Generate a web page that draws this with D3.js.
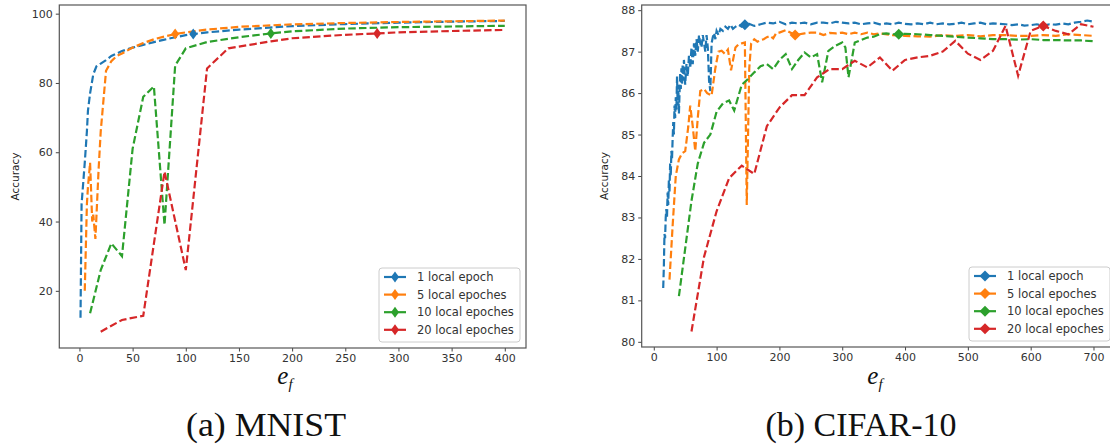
<!DOCTYPE html>
<meta charset="utf-8">
<style>
body {margin: 0; background: #fff;}
.tick text {font: 11px "DejaVu Sans", sans-serif; fill: #333;}
.tick line {stroke: #444;}
.domain {display: none;}
.legend text {font: 11.5px "DejaVu Sans", sans-serif; fill: #333;}
</style>
<html>
<body>
<script src="https://d3js.org/d3.v7.min.js"></script>
<script>
var width = 1110,
    height = 446;

var seriesNames = ["1 local epoch", "5 local epoches", "10 local epoches", "20 local epoches"];
var colors = ["#1f77b4", "#ff7f0e", "#2ca02c", "#d62728"];

// MNIST (a)
var mnistTicksX = [0, 50, 100, 150, 200, 250, 300, 350, 400];
var mnistTicksY = [20, 40, 60, 80, 100];
var mnist1 = [[1,12.2],[2,45],[4,53],[5,57],[7,66],[8,72],[10,77],[13,82.5],[16,84.8],[20,85.6],[25,86.6],[30,87.8],[40,89.2],[50,90.2],[60,91],[70,91.8],[80,92.5],[90,93.2],[100,93.8],[107,94.1],[120,94.6],[150,95.4],[200,96.4],[250,97],[300,97.4],[350,97.7],[400,97.9]];
var mnist5 = [[5,20],[7,45],[8,50],[10,57],[12,40],[13,42],[15,35],[18,55],[20,66],[25,83.5],[30,86.3],[35,87.8],[40,88.5],[50,90.2],[60,91.5],[70,92.6],[80,93.4],[90,94.1],[100,94.6],[120,95.4],[150,96.2],[200,96.9],[250,97.3],[300,97.6],[350,97.8],[400,98]];
var mnist10 = [[10,13.5],[20,26],[30,33.7],[40,30],[50,61],[60,76],[70,79],[80,39],[90,85],[100,90],[120,91.8],[150,93.2],[180,94.3],[200,94.9],[250,95.7],[300,96.1],[350,96.3],[400,96.5]];
var mnist20 = [[20,8.2],[40,11.6],[60,12.8],[80,54.4],[100,26],[120,84.2],[140,90],[160,91],[180,92],[200,92.9],[250,93.9],[280,94.3],[300,94.6],[350,95],[400,95.3]];
var mnistMarks = [107, 90, 180, 280];

// CIFAR-10 (b)
var cifarTicksX = [0, 100, 200, 300, 400, 500, 600, 700];
var cifarTicksY = [80, 81, 82, 83, 84, 85, 86, 87, 88];
var cifar1 = [[15,81.3],[16,81.8],[17,82.6],[18,82.5],[19,83],[20,83.2],[21,83],[22,83.6],[23,83.3],[24,83.9],[25,83.6],[26,84.3],[27,84],[28,84.6],[29,84.4],[30,84.9],[31,85.3],[32,85],[33,85.7],[34,85.4],[35,85.9],[36,85.6],[37,86.4],[38,85.7],[39,86.2],[40,85.5],[41,86],[42,86.5],[43,86.1],[44,86.6],[45,86.2],[46,86.7],[47,86.3],[48,86.8],[49,86.5],[50,86.2],[52,86.7],[54,86.4],[56,86.9],[58,86.6],[60,87.1],[62,86.7],[64,87.2],[66,86.9],[68,87.3],[70,87],[72,87.4],[74,87.2],[76,87.1],[78,87.4],[80,87.2],[82,87],[84,87.4],[86,87.1],[88,86.3],[90,86.05],[92,87.2],[94,87.35],[96,87.45],[98,87.3],[100,87.5],[103,87.4],[106,87.55],[110,87.5],[114,87.6],[118,87.55],[122,87.65],[126,87.55],[130,87.6],[135,87.65],[140,87.6],[145,87.65],[150,87.68],[160,87.62],[170,87.66],[180,87.7],[190,87.68],[200,87.72],[210,87.66],[220,87.7],[230,87.68],[240,87.7],[250,87.66],[260,87.7],[270,87.7],[280,87.68],[290,87.72],[300,87.7],[310,87.68],[320,87.7],[330,87.66],[340,87.68],[350,87.7],[360,87.66],[370,87.68],[380,87.66],[390,87.7],[400,87.67],[410,87.66],[420,87.68],[430,87.66],[440,87.7],[450,87.66],[460,87.68],[470,87.66],[480,87.67],[490,87.7],[500,87.66],[510,87.68],[520,87.7],[530,87.66],[540,87.68],[550,87.67],[560,87.66],[570,87.64],[580,87.66],[590,87.63],[600,87.64],[610,87.66],[620,87.63],[630,87.66],[640,87.65],[650,87.68],[660,87.66],[670,87.7],[680,87.72],[690,87.75],[700,87.72]];
var cifar5 = [[25,81.5],[30,82.8],[35,84],[40,84.4],[45,84.55],[50,84.6],[55,85.2],[58,85.7],[62,85.2],[66,84.6],[70,85.4],[74,86.05],[80,86.1],[85,86],[92,85.94],[98,86.6],[103,87],[108,87.02],[113,86.95],[118,87.05],[123,86.55],[130,87.1],[135,87.18],[140,87.2],[145,87.22],[148,83.3],[152,86.6],[155,87.2],[160,87.3],[165,87.24],[170,87.28],[175,87.3],[180,87.35],[185,87.38],[190,87.32],[195,87.45],[200,87.46],[210,87.52],[225,87.4],[240,87.44],[250,87.46],[260,87.46],[270,87.4],[280,87.45],[290,87.44],[300,87.46],[310,87.42],[320,87.46],[330,87.42],[340,87.46],[350,87.42],[360,87.44],[380,87.4],[400,87.38],[420,87.37],[440,87.36],[460,87.4],[480,87.38],[500,87.4],[520,87.37],[540,87.4],[560,87.4],[580,87.38],[600,87.38],[620,87.4],[640,87.38],[660,87.42],[680,87.4],[700,87.38]];
var cifar10 = [[40,81.1],[50,82.25],[60,83.4],[70,84.3],[80,84.8],[90,85],[100,85.55],[110,85.75],[120,85.82],[128,85.58],[140,86.2],[150,86.34],[160,86.5],[170,86.65],[180,86.7],[190,86.58],[200,86.8],[210,86.94],[220,86.58],[230,86.8],[240,86.98],[250,86.86],[260,86.94],[268,86.26],[278,87.02],[290,87.15],[300,87.22],[305,87.1],[310,86.38],[320,87.22],[330,87.28],[340,87.34],[350,87.36],[360,87.42],[370,87.44],[380,87.42],[390,87.42],[400,87.43],[420,87.42],[440,87.4],[460,87.38],[480,87.36],[500,87.34],[520,87.32],[540,87.3],[560,87.3],[580,87.29],[600,87.3],[620,87.28],[640,87.28],[660,87.27],[680,87.27],[700,87.25]];
var cifar20 = [[60,80.25],[80,82.05],[100,83.15],[120,83.95],[140,84.25],[160,84.05],[180,85.2],[200,85.65],[220,85.95],[240,85.95],[260,86.38],[280,86.58],[300,86.58],[320,86.78],[340,86.62],[360,86.86],[380,86.54],[400,86.8],[420,86.86],[440,86.9],[460,87],[480,87.26],[500,86.95],[520,86.8],[540,87.02],[560,87.62],[580,86.42],[600,87.5],[620,87.62],[640,87.5],[660,87.42],[680,87.66],[700,87.6]];
var cifarMarks = [145, 225, 390, 620];

var svg = d3.select("body").append("svg")
    .attr("width", width)
    .attr("height", height);

function drawPanel(p) {
    var x = d3.scaleLinear().domain(p.xDomain).range([p.left, p.right]);
    var y = d3.scaleLinear().domain(p.yDomain).range([p.bottom, p.top]);
    var g = svg.append("g");

    g.append("clipPath").attr("id", p.id)
      .append("rect")
        .attr("x", p.left).attr("y", p.top)
        .attr("width", p.right - p.left).attr("height", p.bottom - p.top);

    g.append("g")
        .attr("transform", "translate(0," + p.bottom + ")")
        .call(d3.axisBottom(x).tickValues(p.ticksX).tickSize(3.5).tickPadding(3).tickSizeOuter(0));
    g.append("g")
        .attr("transform", "translate(" + p.left + ",0)")
        .call(d3.axisLeft(y).tickValues(p.ticksY).tickSize(3.5).tickPadding(3).tickSizeOuter(0));

    var line = d3.line().x(function(d) { return x(d[0]); }).y(function(d) { return y(d[1]); });
    var plot = g.append("g").attr("clip-path", "url(#" + p.id + ")");

    p.series.forEach(function(s, i) {
        plot.append("path")
            .attr("d", line(s))
            .attr("fill", "none")
            .attr("stroke", colors[i])
            .attr("stroke-width", 2.2)
            .attr("stroke-dasharray", "7.5,3.2");
    });
    p.series.forEach(function(s, i) {
        var m = s.find(function(d) { return d[0] === p.marks[i]; });
        plot.append("path")
            .attr("d", diamond(x(m[0]), y(m[1]), p.mw, p.mh))
            .attr("fill", colors[i]);
    });

    // frame
    g.append("rect")
        .attr("x", p.left).attr("y", p.top)
        .attr("width", p.right - p.left).attr("height", p.bottom - p.top)
        .attr("fill", "none").attr("stroke", "#555").attr("stroke-width", 1.2);

    // legend
    var lg = g.append("g").attr("class", "legend")
        .attr("transform", "translate(" + p.legX + "," + p.legY + ")");
    lg.append("rect")
        .attr("width", 141).attr("height", 74).attr("rx", 3)
        .attr("fill", "#fff").attr("fill-opacity", 0.85)
        .attr("stroke", "#ccc");
    seriesNames.forEach(function(name, i) {
        var cy = 9 + i * 17.6;
        lg.append("line")
            .attr("x1", 5).attr("x2", 27).attr("y1", cy).attr("y2", cy)
            .attr("stroke", colors[i]).attr("stroke-width", 2.2);
        lg.append("path").attr("d", diamond(16, cy, p.mw, p.mh)).attr("fill", colors[i]);
        lg.append("text").attr("x", 38).attr("y", cy + 4).text(name);
    });

    // axis labels
    g.append("text")
        .attr("transform", "translate(" + p.ylabX + "," + ((p.top + p.bottom) / 2) + ") rotate(-90)")
        .attr("text-anchor", "middle")
        .style("font", "10.5px 'DejaVu Sans', sans-serif")
        .style("fill", "#222")
        .text("Accuracy");

    var xl = g.append("text")
        .attr("x", p.xlabX).attr("y", 384)
        .attr("text-anchor", "middle")
        .style("font", "italic 25px 'Liberation Serif', serif")
        .style("fill", "#111");
    xl.append("tspan").text("e");
    xl.append("tspan").attr("dy", 5).style("font-size", "15px").text("f");

    g.append("text")
        .attr("x", p.capX).attr("y", 436)
        .attr("text-anchor", "middle")
        .attr("textLength", p.capW).attr("lengthAdjust", "spacingAndGlyphs")
        .style("font", "34px 'Liberation Serif', serif")
        .style("fill", "#111")
        .text(p.caption);
}

function diamond(cx, cy, w, h) {
    return "M" + cx + "," + (cy - h) + "L" + (cx + w) + "," + cy + "L" + cx + "," + (cy + h) + "L" + (cx - w) + "," + cy + "Z";
}

drawPanel({
    id: "clipA", left: 59.3, right: 526, top: 5, bottom: 348,
    xDomain: [-18.95, 419.95], yDomain: [3.5, 102.5],
    ticksX: mnistTicksX, ticksY: mnistTicksY,
    series: [mnist1, mnist5, mnist10, mnist20], marks: mnistMarks,
    mw: 4, mh: 5.5,
    legX: 379, legY: 268, ylabX: 19, xlabX: 285,
    capX: 266, capW: 160, caption: "(a) MNIST"
});

drawPanel({
    id: "clipB", left: 641.7, right: 1115, top: 5, bottom: 347,
    xDomain: [-19.25, 734.25], yDomain: [79.875, 88.125],
    ticksX: cifarTicksX, ticksY: cifarTicksY,
    series: [cifar1, cifar5, cifar10, cifar20], marks: cifarMarks,
    mw: 5.5, mh: 5.5,
    legX: 969, legY: 267, ylabX: 608, xlabX: 875,
    capX: 861, capW: 191, caption: "(b) CIFAR-10"
});
</script>
</body>
</html>
